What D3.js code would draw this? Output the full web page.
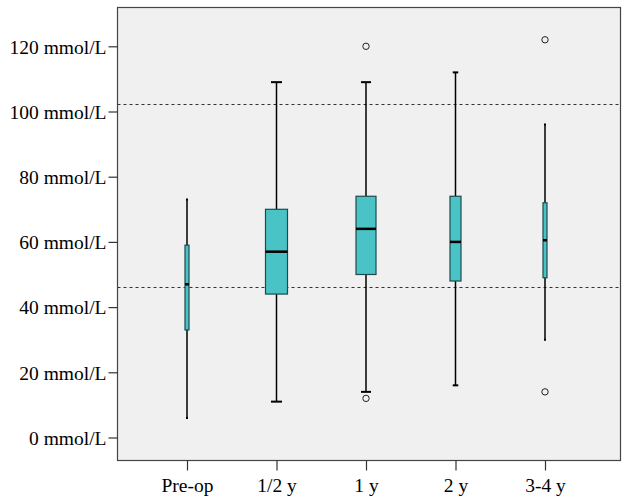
<!DOCTYPE html>
<html><head><meta charset="utf-8">
<script src="https://cdn.jsdelivr.net/npm/d3@7"></script>
<style>
html,body{margin:0;padding:0;background:#fff;}
svg{display:block;}
text{font-family:"Liberation Serif","Times New Roman",serif;fill:#000;}
</style></head>
<body><svg id="chart" width="629" height="504"></svg>
<script>
const categories = ["Pre-op", "1/2 y", "1 y", "2 y", "3-4 y"];
const whiskerLow  = [6, 11, 14, 16, 30];
const q1          = [33, 44, 50, 48, 49];
const medians     = [47, 57, 64, 60, 60.5];
const q3          = [59, 70, 74, 74, 72];
const whiskerHigh = [73, 109, 109, 112, 96];
const outliers    = [[], [], [12, 120], [], [14, 122]];
const refLines    = [46.2, 102.3];
const yTicks      = [0, 20, 40, 60, 80, 100, 120];

const boxWidths = [4, 22, 20, 11, 4];

const svg = d3.select("#chart");
const L = 117.5, R = 620.5, T = 7.5, B = 460.5;

const y = d3.scaleLinear().domain([0, 120]).range([437.5, 46.3]);
const x = d3.scalePoint().domain(categories).range([187, 545]);

svg.append("rect").attr("x", L).attr("y", T).attr("width", R - L).attr("height", B - T)
  .attr("fill", "#f0f0f0").attr("stroke", "none");

svg.selectAll(".ref").data(refLines).enter().append("line")
  .attr("x1", L).attr("x2", R)
  .attr("y1", d => Math.round(y(d)) + 0.5).attr("y2", d => Math.round(y(d)) + 0.5)
  .attr("stroke", "#333").attr("stroke-width", 1).attr("stroke-dasharray", "3,3");

const data = categories.map((c, i) => ({
  c, lo: whiskerLow[i], q1: q1[i], med: medians[i], q3: q3[i], hi: whiskerHigh[i],
  out: outliers[i], w: boxWidths[i]
}));

const g = svg.selectAll(".box").data(data).enter().append("g");

g.append("line").attr("x1", d => x(d.c)).attr("x2", d => x(d.c))
  .attr("y1", d => y(d.hi)).attr("y2", d => y(d.q3))
  .attr("stroke", "#000").attr("stroke-width", 1.5);
g.append("line").attr("x1", d => x(d.c)).attr("x2", d => x(d.c))
  .attr("y1", d => y(d.lo)).attr("y2", d => y(d.q1))
  .attr("stroke", "#000").attr("stroke-width", 1.5);
g.append("line").attr("x1", d => x(d.c) - d.w / 4).attr("x2", d => x(d.c) + d.w / 4)
  .attr("y1", d => y(d.hi)).attr("y2", d => y(d.hi))
  .attr("stroke", "#000").attr("stroke-width", 2);
g.append("line").attr("x1", d => x(d.c) - d.w / 4).attr("x2", d => x(d.c) + d.w / 4)
  .attr("y1", d => y(d.lo)).attr("y2", d => y(d.lo))
  .attr("stroke", "#000").attr("stroke-width", 2);

g.append("rect").attr("x", d => x(d.c) - d.w / 2).attr("width", d => d.w)
  .attr("y", d => y(d.q3)).attr("height", d => y(d.q1) - y(d.q3))
  .attr("fill", "#4ac3c6").attr("stroke", "#1e4a4b").attr("stroke-width", 1.2);
g.append("line").attr("x1", d => x(d.c) - d.w / 2).attr("x2", d => x(d.c) + d.w / 2)
  .attr("y1", d => y(d.med)).attr("y2", d => y(d.med))
  .attr("stroke", "#000").attr("stroke-width", 2.5);

g.each(function(d) {
  d3.select(this).selectAll("circle").data(d.out).enter().append("circle")
    .attr("cx", x(d.c)).attr("cy", v => y(v)).attr("r", 3.2)
    .attr("fill", "none").attr("stroke", "#222").attr("stroke-width", 1);
});

svg.append("rect").attr("x", L).attr("y", T).attr("width", R - L).attr("height", B - T)
  .attr("fill", "none").attr("stroke", "#444").attr("stroke-width", 1.2);

const yAxis = svg.append("g").attr("transform", `translate(${L},0)`)
  .call(d3.axisLeft(y).tickValues(yTicks).tickSize(9).tickPadding(2)
    .tickFormat(d => d + " mmol/L"));
yAxis.select(".domain").remove();
yAxis.selectAll("line").attr("stroke", "#333").attr("stroke-width", 1.2);
yAxis.selectAll("text").attr("font-size", "19.5px").attr("dy", "0.35em")
  .style("font-family", '"Liberation Serif",serif').attr("fill", "#000");

const xAxis = svg.append("g").attr("transform", `translate(0,${B})`)
  .call(d3.axisBottom(x).tickSize(10).tickPadding(8));
xAxis.select(".domain").remove();
xAxis.selectAll("line").attr("stroke", "#333").attr("stroke-width", 1.2);
xAxis.selectAll("text").attr("font-size", "19.5px")
  .style("font-family", '"Liberation Serif",serif').attr("fill", "#000");
</script></body></html>
